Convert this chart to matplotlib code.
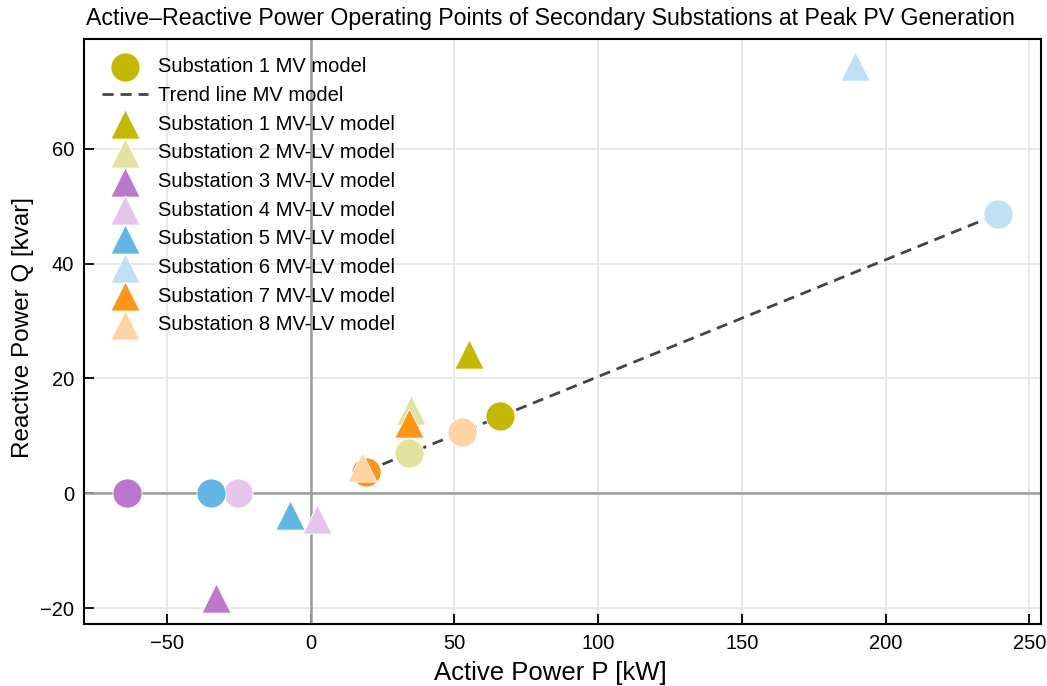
import numpy as np
import matplotlib
matplotlib.use("Agg")
import matplotlib.pyplot as plt

plt.rcParams['font.family'] = ['Liberation Sans', 'DejaVu Sans']

substations = [1, 2, 3, 4, 5, 6, 7, 8]
colors = ['#c2b900', '#e3e39f', '#bb77cc', '#e3c6ea', '#62b6e5', '#bfe0f5', '#ff9514', '#ffd3a3']

# MV model operating points
p_mv = [65.8, 34.1, -64.0, -25.4, -34.8, 239.0, 19.1, 52.5]
q_mv = [13.4, 7.0, 0.0, 0.0, 0.0, 48.6, 3.8, 10.6]

# MV-LV model operating points
p_mvlv = [55.0, 34.8, -33.0, 2.1, -7.3, 189.3, 34.1, 17.7]
q_mvlv = [24.2, 14.5, -18.3, -4.4, -3.8, 74.4, 12.2, 4.5]

x_ticks = [-50, 0, 50, 100, 150, 200, 250]
y_ticks = [-20, 0, 20, 40, 60]

fig, ax = plt.subplots(figsize=(10.47, 6.86), dpi=100)
fig.subplots_adjust(left=0.080, right=0.994, top=0.943, bottom=0.090)

ax.grid(True, color='#e6e6e6', linewidth=1.3, zorder=0)
ax.axhline(0, color='#9c9c9c', linewidth=1.8, zorder=1.8)
ax.axvline(0, color='#9c9c9c', linewidth=1.8, zorder=1.8)

# Trend line fitted through MV points with positive active power
pm = np.array(p_mv)
qm = np.array(q_mv)
mask = pm > 0
coef = np.polyfit(pm[mask], qm[mask], 1)
xs = np.array([pm[mask].min(), pm[mask].max()])

handles = []
for i, s in enumerate(substations):
    lab = f'Substation {s} MV model' if i == 0 else '_nolegend_'
    h = ax.scatter(p_mv[i], q_mv[i], s=440, color=colors[i], marker='o',
                   edgecolors='white', linewidths=0.6, zorder=3, label=lab)
    if i == 0:
        handles.append(h)

tl, = ax.plot(xs, np.polyval(coef, xs), linestyle='--', color='#444444',
              linewidth=2, zorder=2.5, label='Trend line MV model', dashes=(4, 2.5))
handles.append(tl)

for i, s in enumerate(substations):
    h = ax.scatter(p_mvlv[i], q_mvlv[i], s=440, color=colors[i], marker='^',
                   edgecolors='white', linewidths=0.6, zorder=4,
                   label=f'Substation {s} MV-LV model')
    handles.append(h)

ax.set_xlim(-79, 254)
ax.set_ylim(-22.8, 79.1)
ax.set_xticks(x_ticks)
ax.set_yticks(y_ticks)
ax.set_xticklabels(['\u221250', '0', '50', '100', '150', '200', '250'])
ax.set_yticklabels(['\u221220', '0', '20', '40', '60'])
ax.tick_params(direction='in', length=7, width=1.3, labelsize=14.5, pad=7,
               top=False, right=False)
for sp in ax.spines.values():
    sp.set_linewidth(1.5)

ax.set_xlabel('Active Power P [kW]', fontsize=18.5, labelpad=6, x=0.488)
ax.set_ylabel('Reactive Power Q [kvar]', fontsize=17.5, labelpad=4, y=0.507)
ax.set_title('Active\u2013Reactive Power Operating Points of Secondary Substations at Peak PV Generation',
             fontsize=16.7, pad=10, x=0.488)

ax.legend(handles=handles, loc='upper left', frameon=False, fontsize=14.5,
          labelspacing=0.48, handletextpad=0.5, borderaxespad=0.5, handlelength=2.3)

fig.savefig('out.png', dpi=100)
